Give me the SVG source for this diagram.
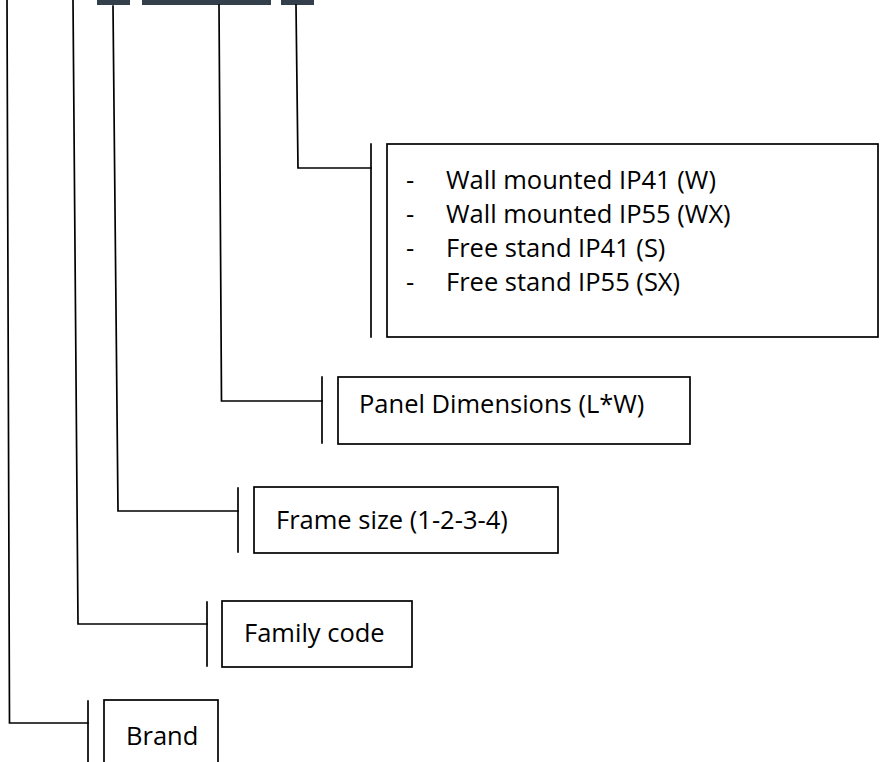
<svg xmlns="http://www.w3.org/2000/svg" width="880" height="762" viewBox="0 0 880 762">
<style>
.ln{fill:none;stroke:#000;stroke-width:1.7;stroke-linecap:square}
.bx{fill:#fff;stroke:#000;stroke-width:1.7}
.bar{fill:#333f4a}
text{font-family:"Open Sans","Noto Sans",sans-serif;font-size:25.5px;fill:#000}
</style>
<rect width="880" height="762" fill="#fff"/>
<g id="code-bars">
<rect class="bar" x="97" y="0" width="33" height="5"/>
<rect class="bar" x="142" y="0" width="129" height="5"/>
<rect class="bar" x="281" y="0" width="33" height="5"/>
</g>
<g id="connectors">
<polyline class="ln" points="7,0 9.5,723 88,723"/>
<line class="ln" x1="88" y1="701" x2="88" y2="762"/>
<polyline class="ln" points="73,0 78,624 207,624"/>
<line class="ln" x1="207" y1="602" x2="207" y2="666"/>
<polyline class="ln" points="113,6 118,511 238,511"/>
<line class="ln" x1="238" y1="488" x2="238" y2="552"/>
<polyline class="ln" points="219,5 221.5,401 322,401"/>
<line class="ln" x1="322" y1="377" x2="322" y2="443"/>
<polyline class="ln" points="296,5 298,168 371,168"/>
<line class="ln" x1="371" y1="144" x2="371" y2="337"/>
</g>
<g id="node-mounting">
<rect class="bx" x="387" y="144" width="491" height="193"/>
<text x="406" y="189">-</text><text x="446" y="189">Wall mounted IP41 (W)</text>
<text x="406" y="223">-</text><text x="446" y="223">Wall mounted IP55 (WX)</text>
<text x="406" y="257">-</text><text x="446" y="257">Free stand IP41 (S)</text>
<text x="406" y="291">-</text><text x="446" y="291">Free stand IP55 (SX)</text>
</g>
<g id="node-panel">
<rect class="bx" x="338" y="377" width="352" height="67"/>
<text x="359" y="413">Panel Dimensions (L*W)</text>
</g>
<g id="node-frame">
<rect class="bx" x="254" y="487" width="304" height="66"/>
<text x="276" y="529">Frame size (1-2-3-4)</text>
</g>
<g id="node-family">
<rect class="bx" x="222" y="601" width="190" height="66"/>
<text x="244" y="642">Family code</text>
</g>
<g id="node-brand">
<rect class="bx" x="104" y="700" width="114" height="70"/>
<text x="126" y="745">Brand</text>
</g>
</svg>
